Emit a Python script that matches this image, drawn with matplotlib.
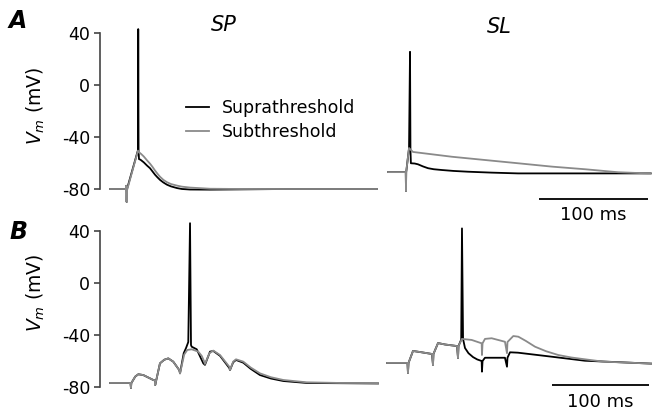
import matplotlib
matplotlib.use("Agg")
import matplotlib.pyplot as plt

plt.rcParams.update({
    "font.family": "DejaVu Sans",
    "font.size": 12.5,
    "mathtext.fontset": "dejavusans",
})

W, H = 652, 412

# ---- data: membrane potential traces (t in ms, V in mV) ----
# A, SP (soma proximal): single input
SP_A_T_SUPRA = [0, 14.5, 15.0, 15.3, 15.6, 25.7, 25.9, 26.2, 26.6, 28.0, 31.0, 34.0,
                36.7, 39.0, 41.3, 43.5, 45.9, 49.0, 52.3, 56.0, 61.5, 66.0, 73.4,
                91.7, 120, 160, 200, 245]
SP_A_V_SUPRA = [-80, -80, -77.5, -90, -80, -50, 43, -50, -57, -57.5, -59.5, -62,
                -64, -66.5, -69, -71, -73, -75, -76.7, -78, -79.3, -80, -80.4,
                -80.5, -80.3, -80, -80, -80]
SP_A_T_SUB = [0, 14.5, 15.0, 15.3, 15.6, 25.7, 27.0, 28.5, 31.0, 34.0, 36.7, 39.0,
              41.3, 43.5, 45.9, 49.0, 52.3, 56.0, 61.5, 66.0, 73.4, 91.7, 120, 160,
              200, 245]
SP_A_V_SUB = [-80, -80, -77.5, -90, -81, -50.5, -52, -53, -55, -58, -60.5, -63,
              -65.8, -68.2, -70.6, -73, -74.8, -76.2, -77.4, -78.2, -78.9, -79.8, -80,
              -80, -80, -80]

# A, SL (stratum lacunosum): single input
SL_A_T_SUPRA = [0, 16.3, 16.5, 16.7, 19.3, 20.2, 20.6, 21.0, 24.5, 27.5, 32.0, 36.7,
                42.0, 49.5, 60.0, 73.4, 95.0, 119.3, 180, 241]
SL_A_V_SUPRA = [-67, -67, -81.5, -67, -48.5, 25.5, -50, -60.2, -60.4, -61, -62.6, -64,
                -64.8, -65.4, -66.1, -66.7, -67.4, -68, -68, -68]
SL_A_T_SUB = [0, 16.3, 16.5, 16.7, 19.3, 22.9, 58.7, 89.0, 119.3, 150.5, 180.7,
              211, 238.5, 241]
SL_A_V_SUB = [-67, -67, -81.5, -67, -48.5, -51.5, -55.2, -57.7, -60.2, -62.8, -64.8,
              -67.1, -68, -68]

# B, SP: train of five inputs
SP_B_T_SUB = [0, 20.6, 21.1, 21.6, 22.0, 26.0, 29.2, 34.3, 44.6, 46.4, 46.6, 51.5, 56.0,
              60.1, 65.2, 71.4, 72.2, 76.5, 79.7, 84.2, 91.0, 94.5, 97.2, 97.9, 102.5,
              106.5, 113.4, 123.0, 123.7, 127.0, 129.9, 137.4, 145.0, 154.6, 166.0,
              178.7, 202.8, 237, 276.3]
SP_B_V_SUB = [-76.9, -76.9, -76.9, -80.8, -77, -72, -70.2, -70.8, -74.6, -75, -78.5, -61.8,
              -59, -58, -60.5, -67, -69.5, -55, -51.5, -51, -52.8, -56, -60.5, -62.3, -54,
              -52, -55.4, -64.4, -67, -60.5, -58.7, -60.5, -65, -69.5, -72.5,
              -74.6, -76.4, -76.9, -77]
SP_B_T_SUPRA = [0, 20.6, 21.1, 21.6, 22.0, 26.0, 29.2, 34.3, 44.6, 46.4, 46.6, 51.5,
                56.0, 60.1, 65.2, 71.4, 72.2, 76.0, 78.4, 80.7, 82.5, 83.5, 84.2, 89.4,
                96.2, 97.9, 103.1, 106.5, 113.4, 123.0, 123.7, 127.0, 129.9, 137.4,
                145.0, 154.6, 166.0, 178.7, 202.8, 276.3]
SP_B_V_SUPRA = [-76.9, -76.9, -76.9, -80.8, -77, -72, -70.2, -70.8, -74.6, -75, -78.5,
                -61.8, -59, -58, -60.5, -67, -69.5, -54, -50, -45.4, 46, -47.7, -49,
                -51, -61.8, -63, -52.8, -52.3, -56, -65.4, -67, -61, -59.2, -61.3,
                -66, -70.8, -73.5, -75.4, -76.9, -77.3]

# B, SL: train of five inputs
SL_B_T_SUB = [0, 21.1, 21.6, 22.2, 26.8, 34.0, 46.4, 47.4, 47.9, 52.6, 59.8, 72.2,
              73.2, 73.7, 77.3, 87.3, 97.6, 97.9, 98.5, 101.0, 107.9, 121.6, 123.7,
              124.2, 130.2, 135.4, 143.0, 152.6, 164.0, 176.6, 190.0, 204.1, 223.0,
              272.2]
SL_B_V_SUB = [-61.5, -61.5, -69.2, -61.5, -52.3, -53.1, -54.6, -63, -54.6, -46.2, -47.3,
              -48.5, -57.7, -48.5, -43, -43.8, -46.4, -55.4, -46.4, -43, -42.5, -45.2,
              -54, -45.4, -40.8, -41.3, -44.5, -49, -52.5, -55.4, -57.3, -58.7, -60.5,
              -62]
SL_B_T_SUPRA = [0, 21.1, 21.6, 22.2, 26.8, 34.0, 46.4, 47.4, 47.9, 52.6, 59.8, 72.2,
                73.2, 73.7, 76.5, 77.3, 78.4, 80.4, 84.0, 88.7, 93.0, 97.6, 97.9, 98.5,
                101.0, 121.6, 123.7, 124.2, 126.8, 135.0, 169.8, 204.1, 272.2]
SL_B_V_SUPRA = [-61.5, -61.5, -69.2, -61.5, -52.3, -53.1, -54.6, -63, -54.6, -46.2,
                -47.3, -48.5, -57.7, -48.5, -43.5, 42, -43, -50, -54, -57, -58.8, -60,
                -68.2, -60, -57.5, -57.5, -64.4, -57.5, -53.3, -53.6, -56.7, -59.8,
                -62]

Y_TICKS = [-80, -40, 0, 40]
Y_TICKLABELS = ["-80", "-40", "0", "40"]
SCALE_MS = 100

BLACK = "#000000"
GRAY = "#8a8a8a"


def place(fig, xl, xr, yt, yb, x0, sx, y80, sy=1.3):
    """Axes at pixel box, with t=0 at pixel x0 and -80 mV at pixel y80."""
    ax = fig.add_axes([xl / W, 1 - yb / H, (xr - xl) / W, (yb - yt) / H])
    ax.set_xlim((xl - x0) / sx, (xr - x0) / sx)
    ax.set_ylim(-80 + (y80 - yb) / sy, -80 + (y80 - yt) / sy)
    ax.patch.set_visible(False)
    for s in ax.spines.values():
        s.set_visible(False)
    ax.set_xticks([])
    ax.set_yticks([])
    return ax


def style_left(ax):
    ax.spines["left"].set_visible(True)
    ax.spines["left"].set_bounds(-80, 40)
    ax.spines["left"].set_color("#444444")
    ax.spines["left"].set_linewidth(1.2)
    ax.set_yticks(Y_TICKS)
    ax.set_yticklabels(Y_TICKLABELS)
    ax.tick_params(axis="y", direction="out", length=4, width=1.2,
                   color="#444444", pad=3, labelsize=12.5)


def scalebar(ax, t_end, v, v_text):
    ax.plot([t_end - SCALE_MS, t_end], [v, v], color="black", lw=1.3,
            clip_on=False, solid_capstyle="butt")
    ax.text(t_end - SCALE_MS / 2, v_text, f"{SCALE_MS} ms", ha="center",
            va="center", fontsize=13)


fig = plt.figure(figsize=(W / 100, H / 100), dpi=100)

lw = 1.3
# row A
axA1 = place(fig, 100, 380, 15, 225, 110, 1.09, 189)
axA2 = place(fig, 385, 652, 15, 225, 388, 1.09, 189)
# row B
axB1 = place(fig, 100, 380, 220, 410, 110, 0.97, 387)
axB2 = place(fig, 385, 652, 220, 410, 387, 0.97, 387)

l1, = axA1.plot(SP_A_T_SUPRA, SP_A_V_SUPRA, color=BLACK, lw=lw, label="Suprathreshold")
l2, = axA1.plot(SP_A_T_SUB, SP_A_V_SUB, color=GRAY, lw=lw, label="Subthreshold")
axA2.plot(SL_A_T_SUPRA, SL_A_V_SUPRA, color=BLACK, lw=lw)
axA2.plot(SL_A_T_SUB, SL_A_V_SUB, color=GRAY, lw=lw)
axB1.plot(SP_B_T_SUPRA, SP_B_V_SUPRA, color=BLACK, lw=lw)
axB1.plot(SP_B_T_SUB, SP_B_V_SUB, color=GRAY, lw=lw)
axB2.plot(SL_B_T_SUPRA, SL_B_V_SUPRA, color=BLACK, lw=lw)
axB2.plot(SL_B_T_SUB, SL_B_V_SUB, color=GRAY, lw=lw)

style_left(axA1)
style_left(axB1)

scalebar(axA2, 238.5, -87.7, -100)
scalebar(axB2, 270, -78.5, -91.5)

axA1.legend(handles=[l1, l2], loc="upper left", frameon=False,
            bbox_to_anchor=(186 / W, 1 - 99 / H), bbox_transform=fig.transFigure,
            borderpad=0, borderaxespad=0, handlelength=1.3, handletextpad=0.75,
            labelspacing=0.35, fontsize=12.5)

# labels
for y in (106, 293):
    fig.text(36 / W, 1 - y / H, r"$V_m$ (mV)", rotation=90, ha="center",
             va="center", fontsize=13.5)
fig.text(18 / W, 1 - 21 / H, "A", fontsize=17, fontweight="bold",
         fontstyle="italic", ha="center", va="center")
fig.text(19 / W, 1 - 232 / H, "B", fontsize=17, fontweight="bold",
         fontstyle="italic", ha="center", va="center")
fig.text(224 / W, 1 - 25 / H, "SP", fontsize=15, fontstyle="italic",
         ha="center", va="center")
fig.text(499 / W, 1 - 27 / H, "SL", fontsize=15, fontstyle="italic",
         ha="center", va="center")

fig.savefig("out.png", dpi=100)
